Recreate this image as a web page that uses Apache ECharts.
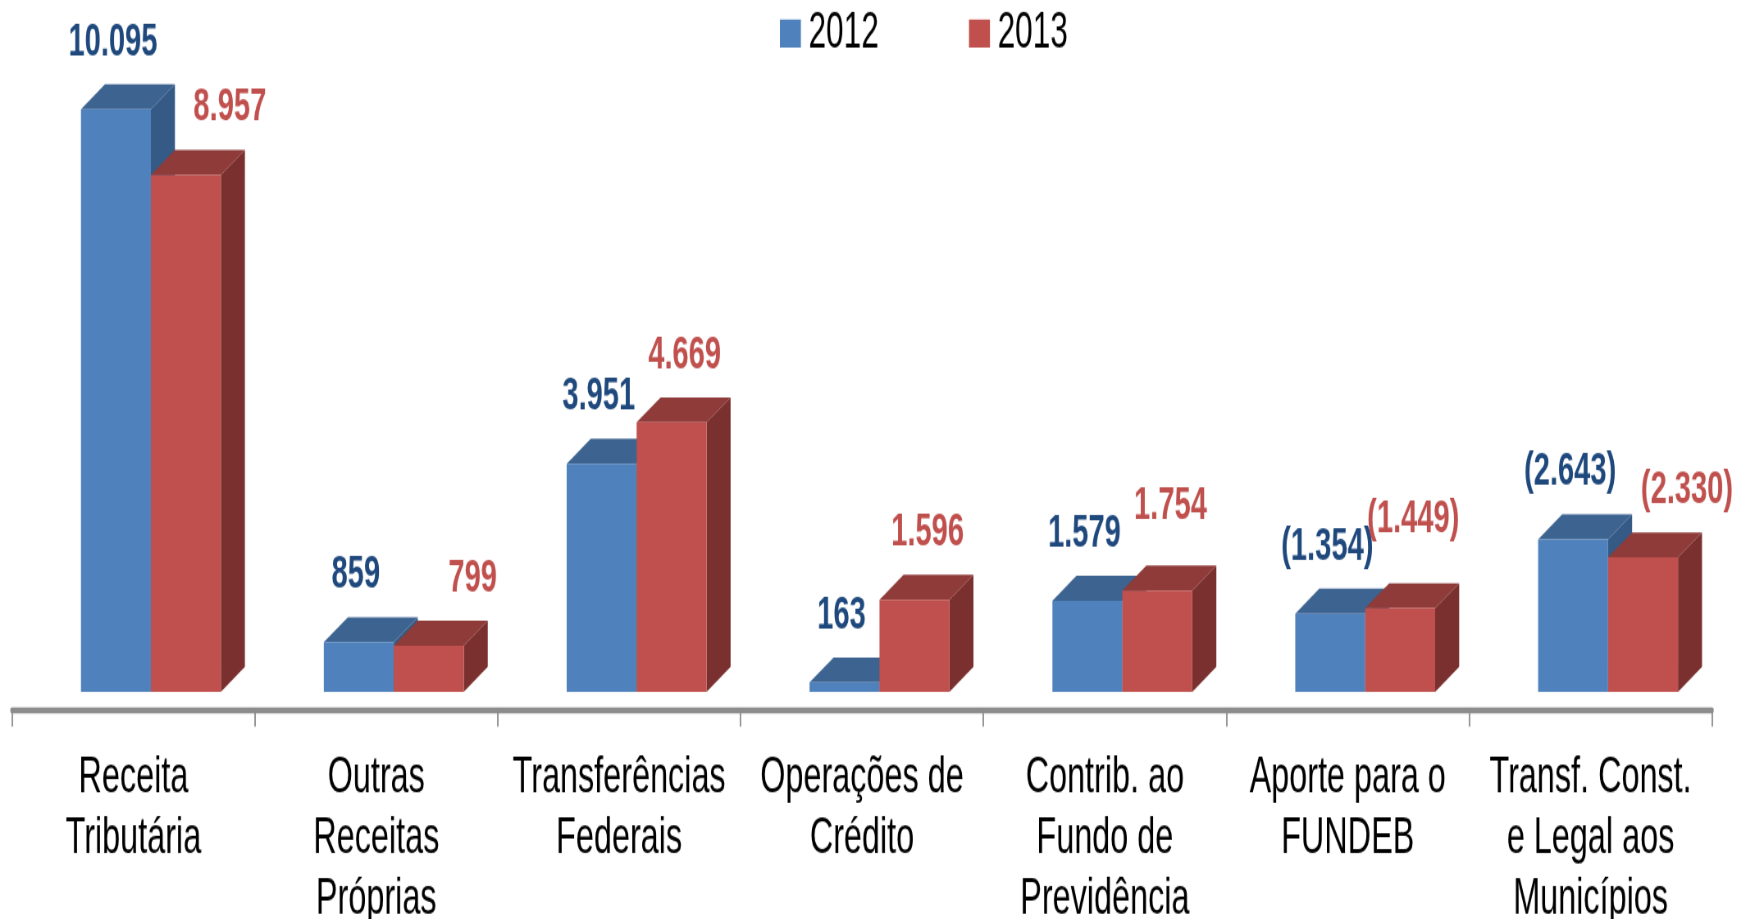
<!DOCTYPE html>
<html>
<head>
<meta charset="utf-8">
<script src="https://cdn.jsdelivr.net/npm/echarts@6/dist/echarts.min.js"></script>
<style>
  html { margin: 0; padding: 0; overflow: hidden; background: #fff; }
  body { margin: 0; padding: 0; width: 1741px; height: 919px; overflow: hidden; background: #fff; }
  /* the source picture is squeezed sideways and stretched upwards (narrow font look),
     so the chart is drawn flat and then scaled; the bottom runs past the window like the original */
  #chart { width: 2123px; height: 720px; transform: scale(0.82007, 1.3204); transform-origin: 0 0; }
</style>
</head>
<body>
<div id="chart"></div>
<script>
var categories = [
  'Receita\nTributária',
  'Outras\nReceitas\nPróprias',
  'Transferências\nFederais',
  'Operações de\nCrédito',
  'Contrib. ao\nFundo de\nPrevidência',
  'Aporte para o\nFUNDEB',
  'Transf. Const.\ne Legal aos\nMunicípios'
];
var years = ['2012', '2013'];
var values2012 = [10095, 859, 3951, 163, 1579, -1354, -2643];
var values2013 = [8957, 799, 4669, 1596, 1754, -1449, -2330];

var FONT = '"Liberation Sans", Arial, sans-serif';

var palette = [
  { front: '#4f81bd', top: '#3d6390', side: '#345a85', label: '#1f497d' },
  { front: '#c0504d', top: '#8e3b39', side: '#7a302e', label: '#c0504d' }
];

function fmt(v) {
  var s = String(Math.abs(v)).replace(/\B(?=(\d{3})+(?!\d))/g, '.');
  return v < 0 ? '(' + s + ')' : s;
}

function box(side) {
  var col = palette[side];
  return function (params, api) {
    var i = api.value(0);
    var v = api.value(1);
    var base = api.coord([i, 0]);
    var top = api.coord([i, Math.abs(v)])[1];
    var band = api.size([1, 0])[0];
    var w = band * 0.288;
    var dx = band * 0.099;
    var dy = 18.9;
    var gap = 32;
    var x0 = base[0] - band / 2 + band * 0.284 + side * w;
    var y0 = base[1];

    // label placement: keep the two value labels of a pair apart
    var ldx = -0.012 * band;
    var ly = top - dy - gap;
    if (side === 1) {
      var other = Math.abs(values2012[i]);
      var otherY = api.coord([i, other])[1] - dy - gap;
      if (Math.abs(v) < other) {
        ldx = 0.181 * band;
      } else {
        ldx = 0.054 * band;
        ly = Math.min(ly, otherY - 21);
      }
    }

    return {
      type: 'group',
      children: [
        {
          type: 'polygon',
          shape: { points: [[x0 + w, top], [x0 + w + dx, top - dy], [x0 + w + dx, y0 - dy], [x0 + w, y0]] },
          style: { fill: col.side }
        },
        {
          type: 'polygon',
          shape: { points: [[x0, top], [x0 + w, top], [x0 + w + dx, top - dy], [x0 + dx, top - dy]] },
          style: { fill: col.top }
        },
        {
          type: 'rect',
          shape: { x: x0, y: top, width: w, height: y0 - top },
          style: { fill: col.front }
        },
        {
          type: 'text',
          x: x0 + w / 2 + ldx,
          y: ly,
          style: {
            text: fmt(v),
            fill: col.label,
            fontFamily: FONT,
            fontWeight: 'bold',
            fontSize: 35.5,
            align: 'center',
            verticalAlign: 'middle'
          }
        }
      ]
    };
  };
}

var chart = echarts.init(document.getElementById('chart'));

var option = {
  animation: false,
  legend: {
    data: years,
    icon: 'rect',
    left: 946,
    top: 0.9,
    itemWidth: 25.6,
    itemHeight: 21.2,
    itemGap: 110,
    textStyle: { fontFamily: FONT, fontSize: 38.5, color: '#000', padding: [0, 0, 0, 4.3] }
  },
  grid: { left: 14.6, right: 35.4, top: 43.2, bottom: 196.1, outerBoundsMode: 'none' },
  xAxis: {
    type: 'category',
    data: categories,
    offset: 13.4,
    axisLine: { show: true, onZero: false, lineStyle: { color: '#8c8c8c', width: 4.4 } },
    axisTick: { show: true, length: 13, lineStyle: { color: '#8c8c8c', width: 1.8 } },
    axisLabel: {
      show: true,
      interval: 0,
      margin: 28.5,
      color: '#000',
      fontFamily: FONT,
      fontSize: 39.5,
      lineHeight: 46
    }
  },
  yAxis: { type: 'value', min: 0, max: 11000, show: false },
  series: [
    {
      name: years[0],
      type: 'custom',
      itemStyle: { color: palette[0].front },
      renderItem: box(0),
      data: values2012.map(function (v, i) { return [i, v]; })
    },
    {
      name: years[1],
      type: 'custom',
      itemStyle: { color: palette[1].front },
      renderItem: box(1),
      data: values2013.map(function (v, i) { return [i, v]; })
    }
  ]
};

chart.setOption(option);
</script>
</body>
</html>
